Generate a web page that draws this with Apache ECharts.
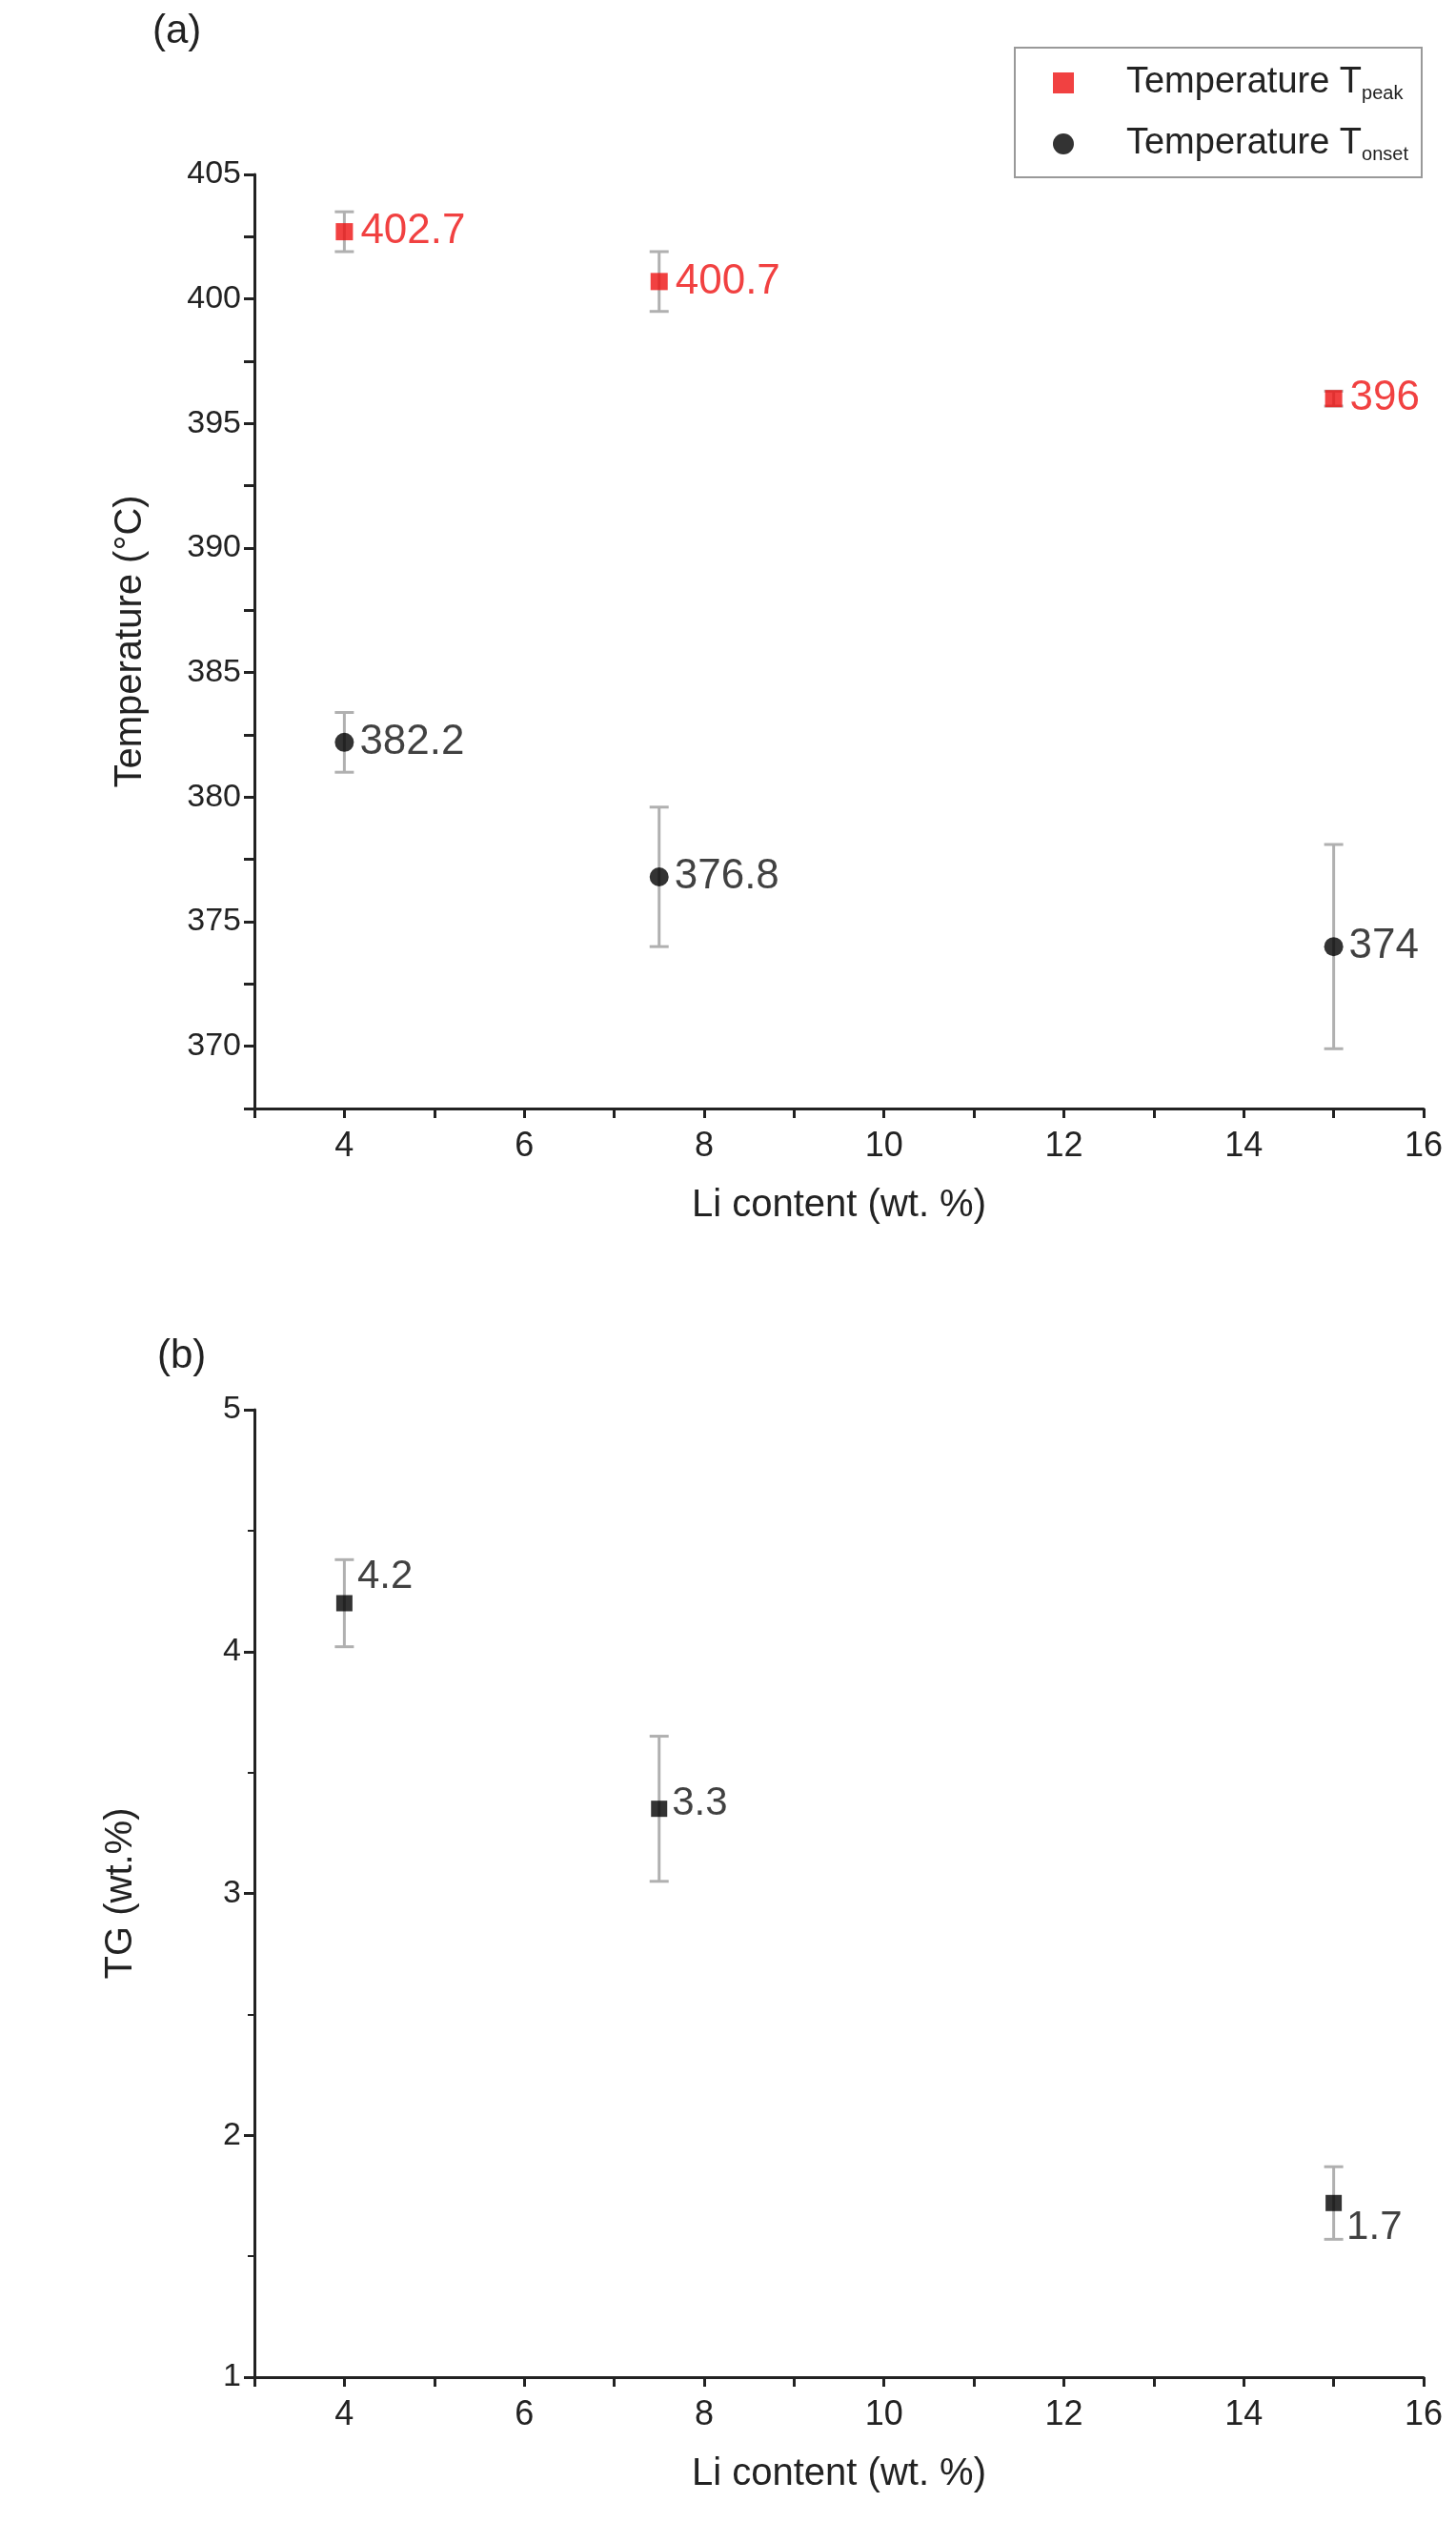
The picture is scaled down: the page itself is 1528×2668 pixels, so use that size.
<!DOCTYPE html>
<html><head><meta charset="utf-8">
<script src="https://cdn.jsdelivr.net/npm/echarts@6/dist/echarts.min.js"></script>
<style>html,body{margin:0;padding:0;background:#fff}#c{width:1528px;height:2668px}</style>
</head><body><div id="c"></div>
<script>
const liContent = [4, 7.5, 15];
const tPeak = [402.7, 400.7, 396];
const tPeakErr = [0.8, 1.2, 0.3];
const tPeakLabels = ['402.7', '400.7', '396'];
const tOnset = [382.2, 376.8, 374];
const tOnsetErr = [1.2, 2.8, 4.1];
const tOnsetLabels = ['382.2', '376.8', '374'];
const tg = [4.2, 3.35, 1.72];
const tgErr = [0.18, 0.3, 0.15];
const tgLabels = ['4.2', '3.3', '1.7'];
const xTicks = [4, 6, 8, 10, 12, 14, 16];

const F = 'Arial, "Liberation Sans", sans-serif';
const chart = echarts.init(document.getElementById('c'));

function errSeries(xi, yi, vals, errs) {
  return {
    type: 'custom', xAxisIndex: xi, yAxisIndex: yi, z: 1, silent: true,
    data: vals.map((v, i) => [liContent[i], v - errs[i], v + errs[i]]),
    renderItem: (p, api) => {
      const lo = api.coord([api.value(0), api.value(1)]);
      const hi = api.coord([api.value(0), api.value(2)]);
      const w = 10, st = {stroke: '#b0b0b0', lineWidth: 3};
      return {type: 'group', children: [
        {type: 'line', shape: {x1: lo[0], y1: lo[1], x2: hi[0], y2: hi[1]}, style: st},
        {type: 'line', shape: {x1: lo[0]-w, y1: lo[1], x2: lo[0]+w, y2: lo[1]}, style: st},
        {type: 'line', shape: {x1: hi[0]-w, y1: hi[1], x2: hi[0]+w, y2: hi[1]}, style: st}
      ]};
    }
  };
}
function xAxis(gi) {
  return {type: 'value', gridIndex: gi, min: 3, max: 16, interval: 1,
    name: 'Li content (wt. %)', nameLocation: 'middle', nameGap: 82,
    nameTextStyle: {fontFamily: F, fontSize: 40, color: '#222'},
    axisLine: {lineStyle: {color: '#222', width: 3}},
    axisTick: {length: 10, lineStyle: {width: 3, color: '#222'}},
    splitLine: {show: false},
    axisLabel: {fontFamily: F, fontSize: 36, color: '#222', margin: 22,
      formatter: v => xTicks.includes(v) ? String(v) : ''}
  };
}
function yAxis(gi, min, max, interval, labelStep, name, gap, minor) {
  return {type: 'value', gridIndex: gi, min, max, interval,
    name, nameLocation: 'middle', nameGap: gap, nameRotate: 90,
    nameTextStyle: {fontFamily: F, fontSize: 40, color: '#222'},
    axisLine: {show: true, lineStyle: {color: '#222', width: 3}},
    axisTick: {length: 11, lineStyle: {width: 3, color: '#222'}},
    minorTick: {show: minor, splitNumber: 2, length: 7, lineStyle: {width: 2, color: '#222'}},
    splitLine: {show: false},
    axisLabel: {fontFamily: F, fontSize: 34, color: '#222', margin: 14,
      formatter: v => (Math.abs(v / labelStep - Math.round(v / labelStep)) < 1e-6 ? String(Math.round(v)) : '')}
  };
}
function labels(arr, pos) { return arr.map((t, i) => ({position: pos ? pos[i] : 'right', formatter: t})); }

chart.setOption({
  animation: false,
  backgroundColor: '#fff',
  graphic: [
    {type: 'text', left: 160, top: 12, style: {text: '(a)', font: '42px ' + F, fill: '#222'}},
    {type: 'text', left: 165, top: 1402, style: {text: '(b)', font: '42px ' + F, fill: '#222'}}
  ],
  legend: {
    right: 36, top: 50, orient: 'vertical', itemGap: 24,
    borderColor: '#999', borderWidth: 2, borderRadius: 0, padding: [18, 14, 14, 40],
    itemWidth: 22, itemHeight: 22, itemStyle: {borderWidth: 0},
    data: [{name: 'peak', icon: 'rect'}, {name: 'onset', icon: 'circle'}],
    formatter: n => '{m|Temperature T}{s|' + n + '}',
    textStyle: {padding: [0, 0, 0, 50], rich: {
      m: {fontFamily: F, fontSize: 38, color: '#222'},
      s: {fontFamily: F, fontSize: 20, color: '#222', verticalAlign: 'bottom', padding: [22, 0, 0, 0]}
    }}
  },
  grid: [
    {left: 267, right: 34, top: 183, height: 980},
    {left: 267, right: 34, top: 1479, height: 1015}
  ],
  xAxis: [xAxis(0), xAxis(1)],
  yAxis: [yAxis(0, 367.5, 405, 2.5, 5, 'Temperature (°C)', 110, false),
          yAxis(1, 1, 5, 1, 1, 'TG (wt.%)', 120, true)],
  series: [
    errSeries(0, 0, tPeak, tPeakErr),
    errSeries(0, 0, tOnset, tOnsetErr),
    errSeries(1, 1, tg, tgErr),
    {name: 'peak', type: 'scatter', xAxisIndex: 0, yAxisIndex: 0, symbol: 'rect', symbolSize: 18, z: 3,
      itemStyle: {color: '#ee1111'},
      label: {show: true, fontFamily: F, fontSize: 44, color: '#ee1111', distance: 8},
      data: tPeak.map((v, i) => ({value: [liContent[i], v], label: labels(tPeakLabels)[i]}))},
    {name: 'onset', type: 'scatter', xAxisIndex: 0, yAxisIndex: 0, symbol: 'circle', symbolSize: 20, z: 3,
      itemStyle: {color: '#000'},
      label: {show: true, fontFamily: F, fontSize: 44, color: '#111', distance: 6},
      data: tOnset.map((v, i) => ({value: [liContent[i], v], label: labels(tOnsetLabels)[i]}))},
    {name: 'tg', type: 'scatter', xAxisIndex: 1, yAxisIndex: 1, symbol: 'rect', symbolSize: 17, z: 3,
      itemStyle: {color: '#000'},
      label: {show: true, fontFamily: F, fontSize: 42, color: '#111'},
      data: tg.map((v, i) => ({value: [liContent[i], v],
        label: labels(tgLabels, [[22, -40], [22, -18], [22, 14]])[i]}))}
  ]
});
</script></body></html>
